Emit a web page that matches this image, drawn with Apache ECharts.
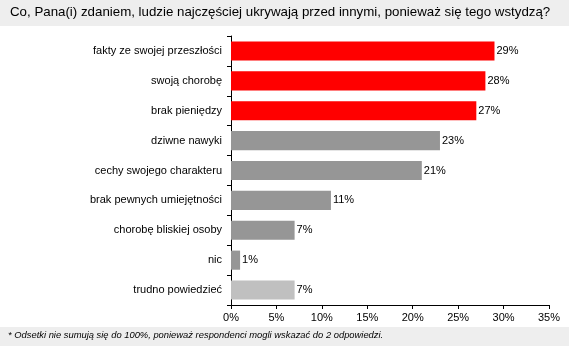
<!DOCTYPE html>
<html>
<head>
<meta charset="utf-8">
<script src="https://cdn.jsdelivr.net/npm/echarts@6/dist/echarts.min.js"></script>
<style>
    html, body { margin: 0; padding: 0; background: #fff; }
    #chart { width: 569px; height: 351px; }
</style>
</head>
<body>
<div id="chart"></div>
<script>
const categories = ['fakty ze swojej przeszłości', 'swoją chorobę', 'brak pieniędzy', 'dziwne nawyki', 'cechy swojego charakteru', 'brak pewnych umiejętności', 'chorobę bliskiej osoby', 'nic', 'trudno powiedzieć'];
const values = [29, 28, 27, 23, 21, 11, 7, 1, 7];
const xTicks = [0, 5, 10, 15, 20, 25, 30, 35];

// kolory słupków
const barColors = ['#ff0000', '#ff0000', '#ff0000', '#969696', '#969696', '#969696', '#969696', '#969696', '#c0c0c0'];

const chart = echarts.init(document.getElementById('chart'));
const font = 'Liberation Sans, Arial, sans-serif';

const option = {
    animation: false,
    textStyle: {fontFamily: font},
    graphic: [
        {type: 'rect', left: 0, top: 0, shape: {width: 569, height: 26}, style: {fill: '#eeeeee'}, z: -1},
        {type: 'rect', left: 0, top: 327, shape: {width: 569, height: 19}, style: {fill: '#eeeeee'}, z: -1},
        {
            type: 'text', left: 8, top: 331,
            style: {
                text: '* Odsetki nie sumują się do 100%, ponieważ respondenci mogli wskazać do 2 odpowiedzi.',
                font: 'italic 9.4px ' + font, fill: '#000',
            },
        },
    ],
    title: {
        text: 'Co, Pana(i) zdaniem, ludzie najczęściej ukrywają przed innymi, ponieważ się tego wstydzą?',
        left: 10, top: 6, padding: 0,
        textStyle: {fontSize: 13.3, fontWeight: 'normal', color: '#000', fontFamily: font},
    },
    grid: {left: 231, right: 20, top: 36, bottom: 46, containLabel: false},
    xAxis: {
        type: 'value',
        min: xTicks[0],
        max: xTicks[xTicks.length - 1],
        interval: 5,
        splitLine: {show: false},
        axisLine: {show: true, lineStyle: {color: '#000'}},
        axisTick: {show: true, length: 4, lineStyle: {color: '#000'}},
        axisLabel: {formatter: '{value}%', color: '#000', fontSize: 11, margin: 7},
    },
    yAxis: {
        type: 'category',
        data: categories,
        inverse: true,
        axisLine: {show: true, lineStyle: {color: '#000'}},
        axisTick: {show: true, length: 4, lineStyle: {color: '#000'}},
        axisLabel: {color: '#000', fontSize: 11, margin: 9},
    },
    series: [
        {
            type: 'bar',
            barCategoryGap: '36%',
            data: values.map((v, i) => ({value: v, itemStyle: {color: barColors[i]}})),
            label: {
                show: true,
                position: 'right',
                distance: 2,
                formatter: '{c}%',
                color: '#000',
                fontSize: 11,
            },
        },
    ],
};

chart.setOption(option);
</script>
</body>
</html>
